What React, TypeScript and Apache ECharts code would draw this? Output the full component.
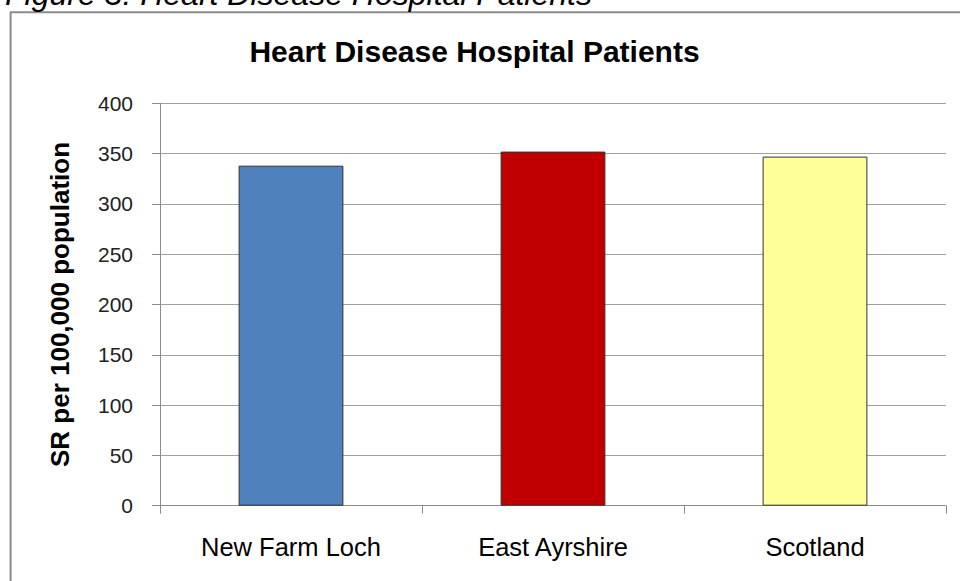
import React, { useEffect, useRef } from "react";
import * as echarts from "echarts";

const categories = ["New Farm Loch", "East Ayrshire", "Scotland"];
const values = [338, 352, 347];
const barColors = ["#4f81bd", "#c00000", "#ffff99"];
const yTicks = { min: 0, max: 400, interval: 50 };
const chartTitle = "Heart Disease Hospital Patients";
const figureCaption = "Figure 3: Heart Disease Hospital Patients";
const yAxisName = "SR per 100,000 population";

export default function App() {
  const ref = useRef<HTMLDivElement>(null);
  useEffect(() => {
    if (!ref.current) return;
    const chart = echarts.init(ref.current, null, { renderer: "svg" });
    chart.setOption({
      animation: false,
      backgroundColor: "#ffffff",
      graphic: [
        {
          type: "rect",
          z: -10,
          shape: { x: 10.6, y: 12.2, width: 1000, height: 1000 },
          style: { fill: "none", stroke: "#8c8c8c", lineWidth: 2 },
        },
        {
          type: "text",
          x: 5,
          y: -6,
          style: {
            text: figureCaption,
            fontFamily: "Liberation Sans, Arial, sans-serif",
            fontStyle: "italic",
            fontSize: 32,
            fill: "#000",
            align: "left",
            verticalAlign: "middle",
          },
        },
        {
          type: "text",
          x: 474.5,
          y: 51.6,
          style: {
            text: chartTitle,
            fontFamily: "Liberation Sans, Arial, sans-serif",
            fontWeight: "bold",
            fontSize: 30,
            fill: "#000",
            align: "center",
            verticalAlign: "middle",
          },
        },
      ],
      grid: { left: 160, right: 14, top: 103.3, bottom: 75.3, containLabel: false },
      xAxis: {
        type: "category",
        data: categories,
        axisLine: { show: true, lineStyle: { color: "#8c8c8c", width: 1 } },
        axisTick: { show: true, length: 8, lineStyle: { color: "#8c8c8c" } },
        axisLabel: {
          margin: 28,
          color: "#000",
          fontSize: 25.5,
          fontFamily: "Liberation Sans, Arial, sans-serif",
        },
        splitLine: { show: false },
      },
      yAxis: {
        type: "value",
        min: yTicks.min,
        max: yTicks.max,
        interval: yTicks.interval,
        name: yAxisName,
        nameLocation: "middle",
        nameRotate: 90,
        nameGap: 87,
        nameTextStyle: {
          fontFamily: "Liberation Sans, Arial, sans-serif",
          fontWeight: "bold",
          fontSize: 26,
          color: "#000",
        },
        axisLine: { show: true, lineStyle: { color: "#8c8c8c", width: 1 } },
        axisTick: { show: true, length: 8, lineStyle: { color: "#8c8c8c" } },
        axisLabel: {
          margin: 27,
          color: "#222",
          fontSize: 21,
          fontFamily: "Liberation Sans, Arial, sans-serif",
        },
        splitLine: { show: true, lineStyle: { color: "#a0a0a0", width: 1 } },
      },
      series: [
        {
          type: "bar",
          barWidth: "40%",
          data: values.map((v, i) => ({
            value: v,
            itemStyle: { color: barColors[i], borderColor: "#333", borderWidth: 1 },
          })),
        },
      ],
    });
    return () => chart.dispose();
  }, []);
  return (
    <div
      ref={ref}
      style={{ position: "fixed", left: 0, top: 0, width: 960, height: 581 }}
    />
  );
}
